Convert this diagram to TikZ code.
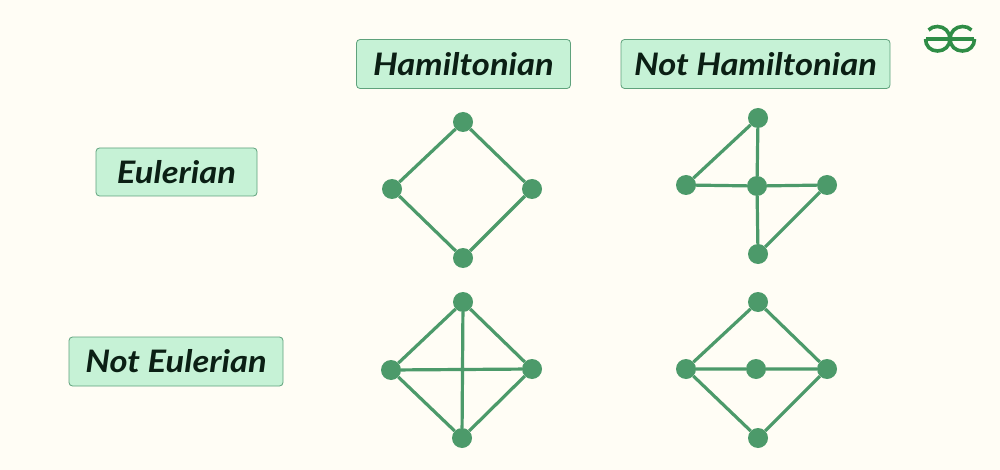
\documentclass[tikz,border=0pt]{standalone}
\usepackage{fontspec}
\setmainfont{Lato}
\newfontfamily\labfont[FakeStretch=1.115]{Lato}
\definecolor{bgc}{HTML}{FFFDF5}
\definecolor{boxfill}{HTML}{C6F2D6}
\definecolor{boxline}{HTML}{5FA27C}
\definecolor{graphc}{HTML}{4C9A6A}
\definecolor{logoc}{HTML}{2F8D46}
\definecolor{inkc}{HTML}{0B1F14}
\tikzset{
  vert/.style={circle,fill=graphc,draw=none,minimum size=20pt,inner sep=0pt},
  edgeline/.style={draw=graphc,line width=3.2pt},
  labelbox/.style={draw=boxline,fill=boxfill,line width=0.8pt,rounded corners=3.5pt,inner sep=0pt,
    text=inkc,font=\labfont\fontsize{31}{34}\selectfont\bfseries\itshape},
  logoline/.style={draw=logoc,line width=3.6pt}
}
\begin{document}
\begin{tikzpicture}[x=1pt,y=-1pt]
\path[fill=bgc] (0,0) rectangle (1000,470);
\useasboundingbox (0,0) rectangle (1000,470);
% labels
\node[labelbox,minimum width=214pt,minimum height=49pt] (ham) at (463.5,64) {Hamiltonian};
\node[labelbox,minimum width=269pt,minimum height=49pt] (nham) at (755.5,64) {Not Hamiltonian};
\node[labelbox,minimum width=161pt,minimum height=48pt] (eul) at (176.5,172) {Eulerian};
\node[labelbox,minimum width=214pt,minimum height=49pt] (neul) at (176,361.5) {Not Eulerian};
% graph 1
\node[vert] (at) at (463,122) {};
\node[vert] (al) at (392,189) {};
\node[vert] (ar) at (532,189) {};
\node[vert] (ab) at (463,258) {};
\draw[edgeline] (at)--(al) (at)--(ar) (al)--(ab) (ar)--(ab);
% graph 2
\node[vert] (bt) at (758,118) {};
\node[vert] (bl) at (686,185) {};
\node[vert] (bc) at (757,186) {};
\node[vert] (br) at (827,185) {};
\node[vert] (bb) at (758,254) {};
\draw[edgeline] (bt)--(bl) (bt)--(bc) (bl)--(bc) (bc)--(br) (bc)--(bb) (br)--(bb);
% graph 3
\node[vert] (ct) at (463,302) {};
\node[vert] (cl) at (391,370) {};
\node[vert] (cr) at (532,369) {};
\node[vert] (cb) at (462,438) {};
\draw[edgeline] (ct)--(cl) (ct)--(cr) (cl)--(cb) (cr)--(cb) (ct)--(cb) (cl)--(cr);
% graph 4
\node[vert] (dt) at (758,302) {};
\node[vert] (dl) at (686,369) {};
\node[vert] (dc) at (756,369) {};
\node[vert] (dr) at (827,369) {};
\node[vert] (db) at (758,438) {};
\draw[edgeline] (dt)--(dl) (dt)--(dr) (dl)--(db) (dr)--(db) (dl)--(dc) (dc)--(dr);
% logo
\draw[logoline] (926,39)--(974,39);
\draw[logoline] (928.5,30) .. controls (931,27.5) and (934,26.5) .. (937.5,26.5)
  .. controls (944.5,26.5) and (950,32) .. (950,39)
  .. controls (950,46) and (944.5,51) .. (937.5,51)
  .. controls (930.5,51) and (925.5,46) .. (925.5,39);
\draw[logoline] (971.5,30) .. controls (969,27.5) and (966,26.5) .. (962.5,26.5)
  .. controls (955.5,26.5) and (950,32) .. (950,39)
  .. controls (950,46) and (955.5,51) .. (962.5,51)
  .. controls (969.5,51) and (974.5,46) .. (974.5,39);
\end{tikzpicture}
\end{document}
